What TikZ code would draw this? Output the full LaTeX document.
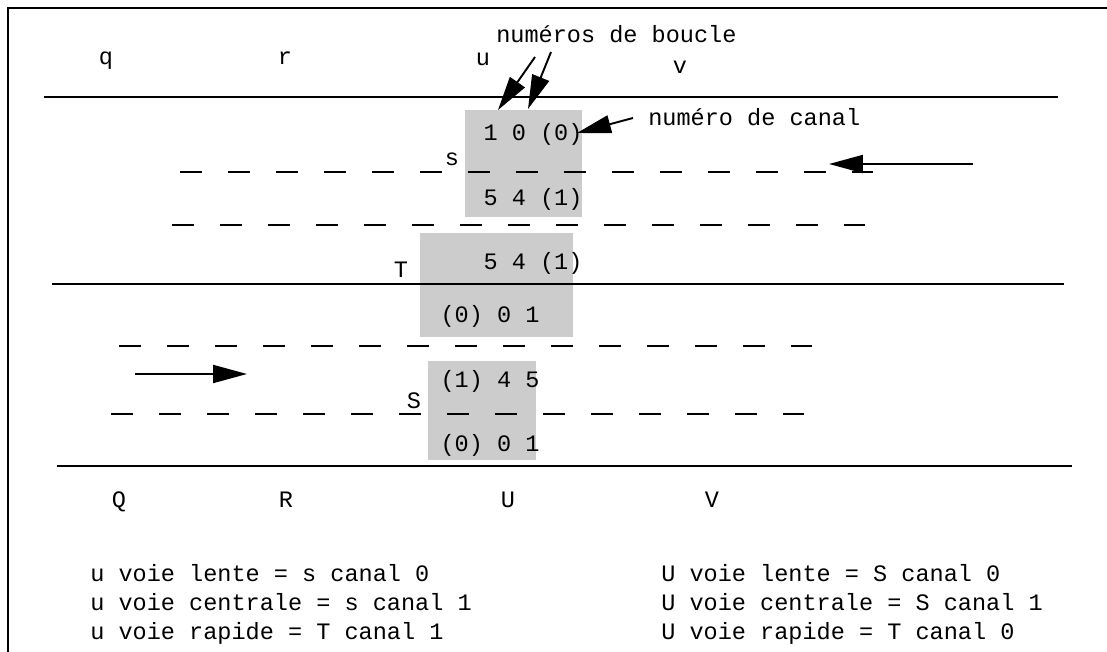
\documentclass[tikz,border=0pt]{standalone}
\usepackage{fontspec}
\setmonofont{Liberation Mono}
\usetikzlibrary{arrows.meta}
\newcommand{\lbl}{\ttfamily\fontsize{13.4}{16}\selectfont}

\begin{document}
\begin{tikzpicture}[
  x=0.02cm, y=-0.02cm,
  every node/.style={font=\lbl, inner sep=0pt},
  road/.style={line width=1.4pt},
  lane/.style={line width=1.6pt, dash pattern=on 12.5pt off 14.8pt},
  block/.style={fill=black!20},
  arrow/.style={-{Triangle[length=0.68cm, width=0.36cm]}, line width=1.1pt}
]
  \useasboundingbox (0,0) rectangle (1107,652);
  % frame
  \draw[line width=1.2pt] (8,652) -- (8,8) -- (1107,8);

  % loop blocks
  \fill[block] (465,110) rectangle (582,217);
  \fill[block] (420,233) rectangle (573,337);
  \fill[block] (428,361) rectangle (536,460);

  % roads and lanes
  \draw[road] (44,97)  -- (1058,97);
  \draw[road] (52,284) -- (1064,284);
  \draw[road] (57,466) -- (1072,466);
  \draw[lane] (180,172) -- (874,172);
  \draw[lane] (172,225) -- (865,225);
  \draw[lane] (119,346) -- (813,346);
  \draw[lane] (111,414) -- (805,414);

  % sections
  \node[anchor=base] (q) at (106,65) {q};
  \node[anchor=base] (r) at (285,65) {r};
  \node[anchor=base] (u) at (483,66) {u};
  \node[anchor=base] (v) at (680,74) {v};
  \node[anchor=base] (Q) at (119,507) {Q};
  \node[anchor=base] (R) at (286,507) {R};
  \node[anchor=base] (U) at (508,507) {U};
  \node[anchor=base] (V) at (712,507) {V};

  % stations and loops
  \node[anchor=base] (s)   at (452,166) {s};
  \node[anchor=base] (s0)  at (533,141) {1 0 (0)};
  \node[anchor=base] (s1)  at (533,206) {5 4 (1)};
  \node[anchor=base] (T)   at (401,277) {T};
  \node[anchor=base] (T1)  at (533,270) {5 4 (1)};
  \node[anchor=base] (T0)  at (490,322) {(0) 0 1};
  \node[anchor=base] (S)   at (414,408) {S};
  \node[anchor=base] (S1)  at (490,387) {(1) 4 5};
  \node[anchor=base] (S0)  at (490,451) {(0) 0 1};

  % callouts
  \node[anchor=base west] (boucle) at (496,43)  {numéros de boucle};
  \node[anchor=base west] (canal)  at (648,126) {numéro de canal};
  \coordinate (b1) at (535,57);  \coordinate (b1t) at (498,110);
  \coordinate (b2) at (551,52);  \coordinate (b2t) at (528,109);
  \coordinate (c1) at (633,118); \coordinate (c1t) at (577,133);
  \draw[arrow] (b1) -- (b1t);
  \draw[arrow] (b2) -- (b2t);
  \draw[arrow] (c1) -- (c1t);

  % traffic direction
  \coordinate (west0) at (973,164); \coordinate (west1) at (829,164);
  \coordinate (east0) at (135,374); \coordinate (east1) at (247,374);
  \draw[arrow] (west0) -- (west1);
  \draw[arrow] (east0) -- (east1);

  % legend
  \node[anchor=base west] (l1) at (90,581) {u voie lente = s canal 0};
  \node[anchor=base west] (l2) at (90,610) {u voie centrale = s canal 1};
  \node[anchor=base west] (l3) at (90,639) {u voie rapide = T canal 1};
  \node[anchor=base west] (r1) at (661,581) {U voie lente = S canal 0};
  \node[anchor=base west] (r2) at (661,610) {U voie centrale = S canal 1};
  \node[anchor=base west] (r3) at (661,639) {U voie rapide = T canal 0};
\end{tikzpicture}
\end{document}
